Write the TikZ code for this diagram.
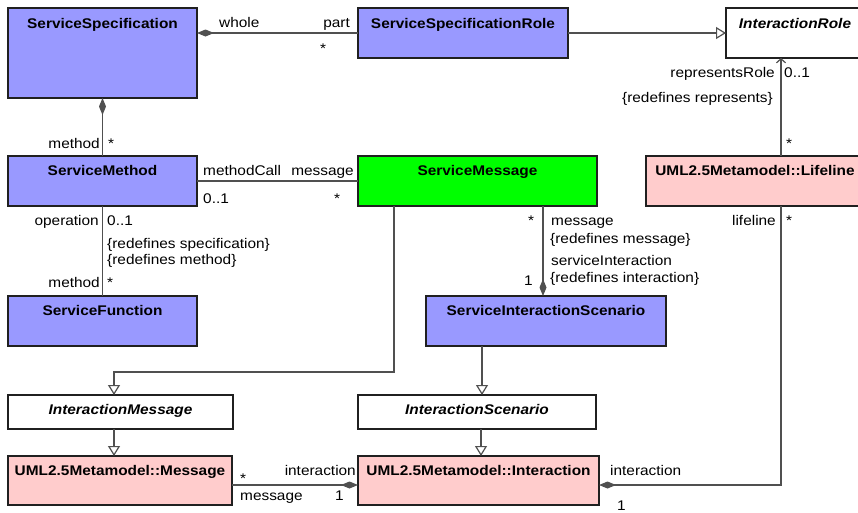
\documentclass[tikz,border=0pt]{standalone}
\usepackage{fontspec}
\setmainfont{Liberation Sans}[FakeStretch=1.1]
\usetikzlibrary{arrows.meta,calc}
\definecolor{svc}{HTML}{9999FF}
\definecolor{msgc}{HTML}{00FF00}
\definecolor{uml}{HTML}{FFCCCC}
\definecolor{ln}{HTML}{505050}
\definecolor{bd}{HTML}{202020}
\tikzset{
  cls/.style={draw=bd, line width=1.2pt, anchor=north west, inner sep=0pt, outer sep=0pt},
  ttl/.style={anchor=base, inner sep=0pt, font=\fontsize{14}{17}\selectfont\bfseries},
  attl/.style={ttl, font=\fontsize{14}{17}\selectfont\bfseries\itshape},
  lbl/.style={anchor=base west, inner sep=0pt, font=\fontsize{14}{17}\selectfont},
  lblr/.style={anchor=base east, inner sep=0pt, font=\fontsize{14}{17}\selectfont},
  conn/.style={draw=ln, line width=1.2pt},
  gen/.style={conn, -{Triangle[open, length=10pt, width=12pt, fill=white]}},
  compA/.style={conn, {Diamond[length=17pt, width=7pt, fill=ln]}-},
  compB/.style={conn, -{Diamond[length=17pt, width=7pt, fill=ln]}},
  nav/.style={conn, -{Straight Barb[length=4pt, width=9pt]}}
}
\begin{document}
\begin{tikzpicture}[x=1pt, y=-1pt]
\useasboundingbox (0,0) rectangle (858,512);
\clip (0,0) rectangle (858,512);
% classes
\node[cls, fill=svc, minimum width=189pt, minimum height=90pt] (ss) at (8,8) {};
\node[ttl] (ssT) at ($(ss.north)+(0,20)$) {ServiceSpecification};
\node[cls, fill=svc, minimum width=210pt, minimum height=50pt] (ssr) at (358,8) {};
\node[ttl] (ssrT) at ($(ssr.north)+(0,20)$) {ServiceSpecificationRole};
\node[cls, fill=white, minimum width=138pt, minimum height=50pt] (ir) at (726,8) {};
\node[attl] (irT) at ($(ir.north)+(0,20)$) {InteractionRole};
\node[cls, fill=svc, minimum width=189pt, minimum height=50pt] (sm) at (8,156) {};
\node[ttl] (smT) at ($(sm.north)+(0,19.5)$) {ServiceMethod};
\node[cls, fill=msgc, minimum width=239pt, minimum height=50pt] (smsg) at (358,156) {};
\node[ttl] (smsgT) at ($(smsg.north)+(0,19.5)$) {ServiceMessage};
\node[cls, fill=uml, minimum width=218pt, minimum height=50pt] (ll) at (646,156) {};
\node[ttl] (llT) at ($(ll.north)+(0,19.5)$) {UML2.5Metamodel::Lifeline};
\node[cls, fill=svc, minimum width=189pt, minimum height=50pt] (sf) at (8,296) {};
\node[ttl] (sfT) at ($(sf.north)+(0,19.5)$) {ServiceFunction};
\node[cls, fill=svc, minimum width=240pt, minimum height=50pt] (sis) at (426,296) {};
\node[ttl] (sisT) at ($(sis.north)+(0,19.5)$) {ServiceInteractionScenario};
\node[cls, fill=white, minimum width=225pt, minimum height=34pt] (im) at (8,395) {};
\node[attl] (imT) at ($(im.north)+(0,19.5)$) {InteractionMessage};
\node[cls, fill=white, minimum width=238pt, minimum height=34pt] (is) at (358,395) {};
\node[attl] (isT) at ($(is.north)+(0,19.5)$) {InteractionScenario};
\node[cls, fill=uml, minimum width=224pt, minimum height=49pt] (msg) at (8,456) {};
\node[ttl] (msgT) at ($(msg.north)+(0,19.5)$) {UML2.5Metamodel::Message};
\node[cls, fill=uml, minimum width=241pt, minimum height=49pt] (inter) at (358,456) {};
\node[ttl] (interT) at ($(inter.north)+(0,19.5)$) {UML2.5Metamodel::Interaction};
% connectors
\draw[compA] (ss.east |- ssr.west) -- (ssr.west);
\draw[gen] (ssr.east) -- (ir.west);
\draw[compA] (ss.south) -- (sm.north);
\draw[conn] (sm.east) -- (smsg.west);
\draw[conn] (sm.south) -- (sf.north);
\coordinate (p1) at ($(sis.north west)+(117,0)$);
\draw[compB] (p1 |- smsg.south) -- (p1);
\coordinate (p2) at ($(smsg.south west)+(36,0)$);
\coordinate (p3) at ($(im.north west)+(106,0)$);
\draw[gen] (p2) |- ($(p3)+(0,-23)$) -- (p3);
\coordinate (p4) at ($(sis.south west)+(56,0)$);
\draw[gen] (p4) -- (p4 |- is.north);
\coordinate (p5) at ($(ll.north west)+(135,0)$);
\draw[nav] (p5) -- (p5 |- ir.south);
\coordinate (p6) at ($(im.south west)+(106,0)$);
\draw[gen] (p6) -- (p6 |- msg.north);
\coordinate (p7) at ($(is.south west)+(123,0)$);
\draw[gen] (p7) -- (p7 |- inter.north);
\coordinate (p8) at ($(msg.east)+(0,4.5)$);
\draw[compB] (p8) -- (p8 -| inter.west);
\coordinate (p9) at ($(ll.south west)+(135,0)$);
\draw[compB] (p9) |- (p8 -| inter.east);
% labels
\node[lbl]  (a1) at (219,27) {whole};
\node[lblr] (a2) at (350,27) {part};
\node[lbl]  (a3) at (320,53) {*};
\node[lblr] (a4) at (100,148) {method};
\node[lbl]  (a5) at (108,148) {*};
\node[lbl]  (a6) at (203,175) {methodCall};
\node[lblr] (a7) at (354,175) {message};
\node[lbl]  (a8) at (203,203) {0..1};
\node[lbl]  (a9) at (334,203) {*};
\node[lblr] (a10) at (99,225) {operation};
\node[lbl]  (a11) at (107,225) {0..1};
\node[lbl]  (a12) at (107,248) {\{redefines specification\}};
\node[lbl]  (a13) at (107,264) {\{redefines method\}};
\node[lblr] (a14) at (100,287) {method};
\node[lbl]  (a15) at (107,287) {*};
\node[lbl]  (a16) at (528,225) {*};
\node[lbl]  (a17) at (551,225) {message};
\node[lbl]  (a18) at (550,243) {\{redefines message\}};
\node[lbl]  (a19) at (551,265) {serviceInteraction};
\node[lbl]  (a20) at (550,282) {\{redefines interaction\}};
\node[lbl]  (a21) at (524,285) {1};
\node[lblr] (a22) at (776,225) {lifeline};
\node[lbl]  (a23) at (786,225) {*};
\node[lblr] (a24) at (775,77) {representsRole};
\node[lbl]  (a25) at (784,77) {0..1};
\node[lblr] (a26) at (773,102) {\{redefines represents\}};
\node[lbl]  (a27) at (786,148) {*};
\node[lbl]  (a28) at (240,483) {*};
\node[lblr] (a29) at (356,475) {interaction};
\node[lbl]  (a30) at (240,500) {message};
\node[lbl]  (a31) at (335,500) {1};
\node[lbl]  (a32) at (610,475) {interaction};
\node[lbl]  (a33) at (617,510) {1};
\end{tikzpicture}
\end{document}
